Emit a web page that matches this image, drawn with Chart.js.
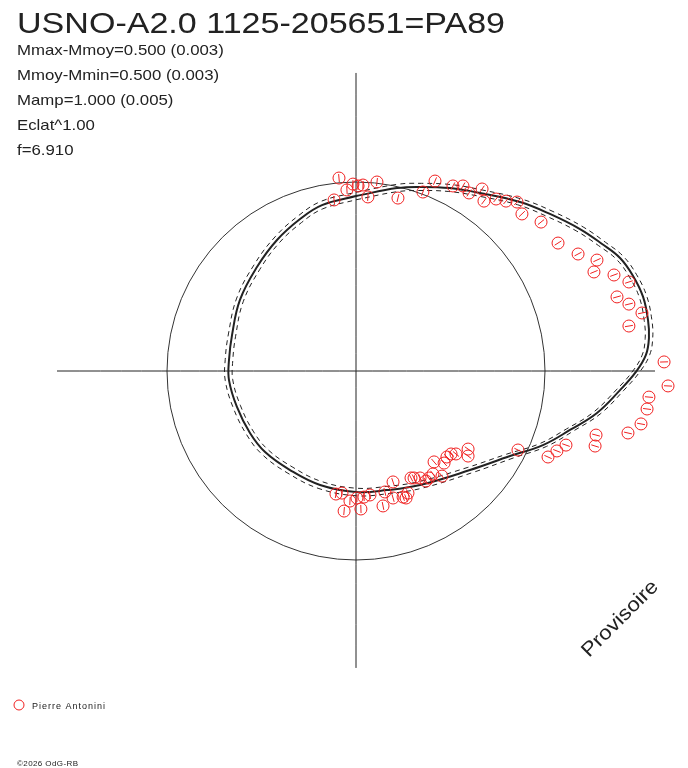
<!DOCTYPE html>
<html>
<head>
<meta charset="utf-8">
<script src="https://cdn.jsdelivr.net/npm/chart.js@4.4.1/dist/chart.umd.min.js"></script>
<style>
  html, body { margin: 0; padding: 0; background: #fff; }
  #wrap { width: 688px; height: 768px; position: relative; }
</style>
</head>
<body>
<div id="wrap"><canvas id="chart"></canvas></div>
<script>
// observations, in units of the amplitude (unit circle = Mamp)
const obsX = [
  -0.090, -0.016, -0.048, 0.011, 0.037, 0.111, 0.063, -0.116, 0.222, 0.354,
  0.418, 0.513, 0.566, 0.598, 0.667, 0.677, 0.741, 0.794, 0.852, 0.878,
  0.979, 1.069, 1.175, 1.275, 1.259, 1.365, 1.444, 1.381, 1.444, 1.513,
  1.444, 1.630, 1.651, 1.550, 1.540, 1.508, 1.439, 1.270, 1.265, 1.111,
  1.063, 1.016, 0.857, 0.593, 0.593, 0.529, 0.503, 0.481, 0.466, 0.413,
  0.455, 0.407, 0.386, 0.370, 0.339, 0.307, 0.291, 0.275, 0.265, 0.249,
  0.196, 0.196, 0.153, 0.143, 0.074, 0.042, 0.026, 0.005, -0.032, -0.063,
  -0.074, -0.106
];
const obsY = [
  1.021, 0.989, 0.958, 0.979, 0.984, 1.000, 0.921, 0.905, 0.915, 0.947,
  1.005, 0.979, 0.979, 0.942, 0.963, 0.899, 0.910, 0.899, 0.894, 0.831,
  0.788, 0.677, 0.619, 0.587, 0.524, 0.508, 0.471, 0.392, 0.354, 0.307,
  0.238, 0.048, -0.079, -0.138, -0.201, -0.280, -0.328, -0.339, -0.397, -0.392,
  -0.423, -0.455, -0.418, -0.413, -0.450, -0.439, -0.439, -0.455, -0.487, -0.481,
  -0.556, -0.545, -0.566, -0.582, -0.566, -0.566, -0.566, -0.646, -0.672, -0.667,
  -0.587, -0.672, -0.640, -0.714, -0.656, -0.667, -0.730, -0.672, -0.688, -0.741,
  -0.646, -0.651
];

// fitted curve
const fitX = [0, 0.217, 0.339, 0.497, 0.656, 0.868, 1.026, 1.185, 1.302, 1.397, 1.466, 1.519, 1.545, 1.550, 1.534, 1.481, 1.397, 1.275, 1.132, 0.989, 0.815, 0.603, 0.339, 0.164, 0, -0.190, -0.349, -0.481, -0.561, -0.630, -0.672, -0.672, -0.656, -0.614, -0.524, -0.418, -0.296, -0.180];
const fitY = [0.926, 0.968, 0.974, 0.968, 0.942, 0.894, 0.831, 0.751, 0.672, 0.598, 0.503, 0.392, 0.270, 0.175, 0.085, -0.005, -0.101, -0.222, -0.312, -0.392, -0.450, -0.524, -0.603, -0.630, -0.640, -0.603, -0.524, -0.429, -0.328, -0.190, -0.048, 0.058, 0.190, 0.376, 0.550, 0.693, 0.804, 0.878];
// error envelope (dashed)
const hiX = [0, 0.221, 0.346, 0.506, 0.667, 0.882, 1.042, 1.202, 1.320, 1.415, 1.485, 1.538, 1.565, 1.570, 1.554, 1.501, 1.417, 1.295, 1.151, 1.008, 0.833, 0.618, 0.349, 0.169, 0, -0.196, -0.360, -0.496, -0.578, -0.649, -0.692, -0.692, -0.675, -0.631, -0.538, -0.428, -0.303, -0.184];
const hiY = [0.946, 0.988, 0.993, 0.986, 0.958, 0.908, 0.844, 0.762, 0.681, 0.606, 0.509, 0.397, 0.273, 0.177, 0.086, -0.005, -0.102, -0.225, -0.317, -0.399, -0.460, -0.537, -0.620, -0.649, -0.660, -0.622, -0.541, -0.442, -0.338, -0.196, -0.049, 0.060, 0.196, 0.386, 0.564, 0.710, 0.823, 0.898];
const loX = [0, 0.213, 0.332, 0.488, 0.645, 0.854, 1.010, 1.168, 1.284, 1.379, 1.447, 1.500, 1.525, 1.530, 1.514, 1.461, 1.377, 1.255, 1.113, 0.970, 0.797, 0.588, 0.329, 0.159, 0, -0.184, -0.338, -0.466, -0.544, -0.611, -0.652, -0.652, -0.637, -0.597, -0.510, -0.408, -0.289, -0.176];
const loY = [0.906, 0.948, 0.955, 0.950, 0.926, 0.880, 0.818, 0.740, 0.663, 0.590, 0.497, 0.387, 0.267, 0.173, 0.084, -0.005, -0.100, -0.219, -0.307, -0.385, -0.440, -0.511, -0.586, -0.611, -0.620, -0.584, -0.507, -0.416, -0.318, -0.184, -0.047, 0.056, 0.184, 0.366, 0.536, 0.676, 0.785, 0.858];

const axisX = [-1.582, 1.582];
const axisY = [-1.571, 1.577];

const title = 'USNO-A2.0 1125-205651=PA89';
const infoLines = ['Mmax-Mmoy=0.500 (0.003)', 'Mmoy-Mmin=0.500 (0.003)', 'Mamp=1.000 (0.005)', 'Eclat^1.00', 'f=6.910'];
const observer = 'Pierre Antonini';
const credit = '\u00a92026 OdG-RB';
const stamp = 'Provisoire';

const red = '#f02020';
const ink = '#222';

const toPts = (xs, ys) => xs.map((x, i) => ({ x: x, y: ys[i] }));
const closed = (xs, ys) => { const p = toPts(xs, ys); p.push(p[0]); return p; };

function stretched(ctx, str, x, y, font, sx, spacing) {
  ctx.save();
  ctx.translate(x, y);
  ctx.scale(sx, 1);
  ctx.font = font;
  ctx.letterSpacing = spacing || '0px';
  ctx.fillText(str, 0, 0);
  ctx.restore();
}

const decor = {
  id: 'decor',
  beforeDatasetsDraw(chart) {
    const ctx = chart.ctx, sx = chart.scales.x, sy = chart.scales.y;
    const cx = sx.getPixelForValue(0), cy = sy.getPixelForValue(0);
    const r = sx.getPixelForValue(1) - cx;
    ctx.save();
    ctx.strokeStyle = '#333';
    ctx.lineWidth = 1;
    ctx.beginPath();
    ctx.arc(cx, cy, r, 0, Math.PI * 2);
    ctx.stroke();
    ctx.restore();
  },
  afterDatasetsDraw(chart) {
    const ctx = chart.ctx, sx = chart.scales.x, sy = chart.scales.y;
    const cx = sx.getPixelForValue(0), cy = sy.getPixelForValue(0);

    // radial tick inside each marker
    ctx.save();
    ctx.strokeStyle = red;
    ctx.lineWidth = 1;
    chart.getDatasetMeta(0).data.forEach(el => {
      const a = Math.atan2(el.y - cy, el.x - cx);
      const dx = Math.cos(a) * 4, dy = Math.sin(a) * 4;
      ctx.beginPath();
      ctx.moveTo(el.x - dx, el.y - dy);
      ctx.lineTo(el.x + dx, el.y + dy);
      ctx.stroke();
    });
    ctx.restore();

    ctx.save();
    ctx.fillStyle = ink;
    ctx.textBaseline = 'alphabetic';
    stretched(ctx, title, 17, 33, '30px "Liberation Sans"', 1.135);
    infoLines.forEach((t, i) => stretched(ctx, t, 17, 55 + i * 25, '15px "Liberation Sans"', 1.12));

    // legend
    ctx.strokeStyle = red;
    ctx.lineWidth = 1;
    ctx.beginPath();
    ctx.arc(19, 705, 5, 0, Math.PI * 2);
    ctx.stroke();
    stretched(ctx, observer, 32, 709, '9px "Liberation Sans"', 1, '1px');
    stretched(ctx, credit, 17, 766, '8px "Liberation Sans"', 1, '0.4px');

    // watermark
    ctx.save();
    ctx.translate(589, 658);
    ctx.rotate(-Math.PI / 4);
    stretched(ctx, stamp, 0, 0, '20px "Liberation Sans"', 1.12);
    ctx.restore();
    ctx.restore();
  }
};

const lineDs = (data, width, dash, order) => ({
  data: data, showLine: true, borderColor: ink, borderWidth: width,
  borderDash: dash, pointRadius: 0, tension: 0.4, fill: false, order: order
});

new Chart(document.getElementById('chart').getContext('2d'), {
  type: 'scatter',
  data: {
    datasets: [
      {
        label: observer,
        data: toPts(obsX, obsY),
        pointStyle: 'circle',
        pointRadius: 6,
        pointBorderWidth: 1,
        pointBorderColor: red,
        pointBackgroundColor: 'rgba(0,0,0,0)',
        showLine: false,
        clip: false,
        order: 0
      },
      lineDs(closed(fitX, fitY), 2, [], 1),
      lineDs(closed(hiX, hiY), 1, [5, 4], 1),
      lineDs(closed(loX, loY), 1, [5, 4], 1),
      lineDs([{ x: axisX[0], y: 0 }, { x: axisX[1], y: 0 }], 1, [], 2),
      lineDs([{ x: 0, y: axisY[0] }, { x: 0, y: axisY[1] }], 1, [], 2)
    ]
  },
  options: {
    responsive: true,
    maintainAspectRatio: false,
    animation: false,
    events: [],
    layout: { padding: 0, autoPadding: false },
    scales: {
      x: { type: 'linear', display: false, min: -1.8836, max: 1.7566 },
      y: { type: 'linear', display: false, min: -2.1005, max: 1.963 }
    },
    plugins: {
      legend: { display: false },
      tooltip: { enabled: false },
      title: { display: false }
    }
  },
  plugins: [decor]
});
</script>
</body>
</html>
